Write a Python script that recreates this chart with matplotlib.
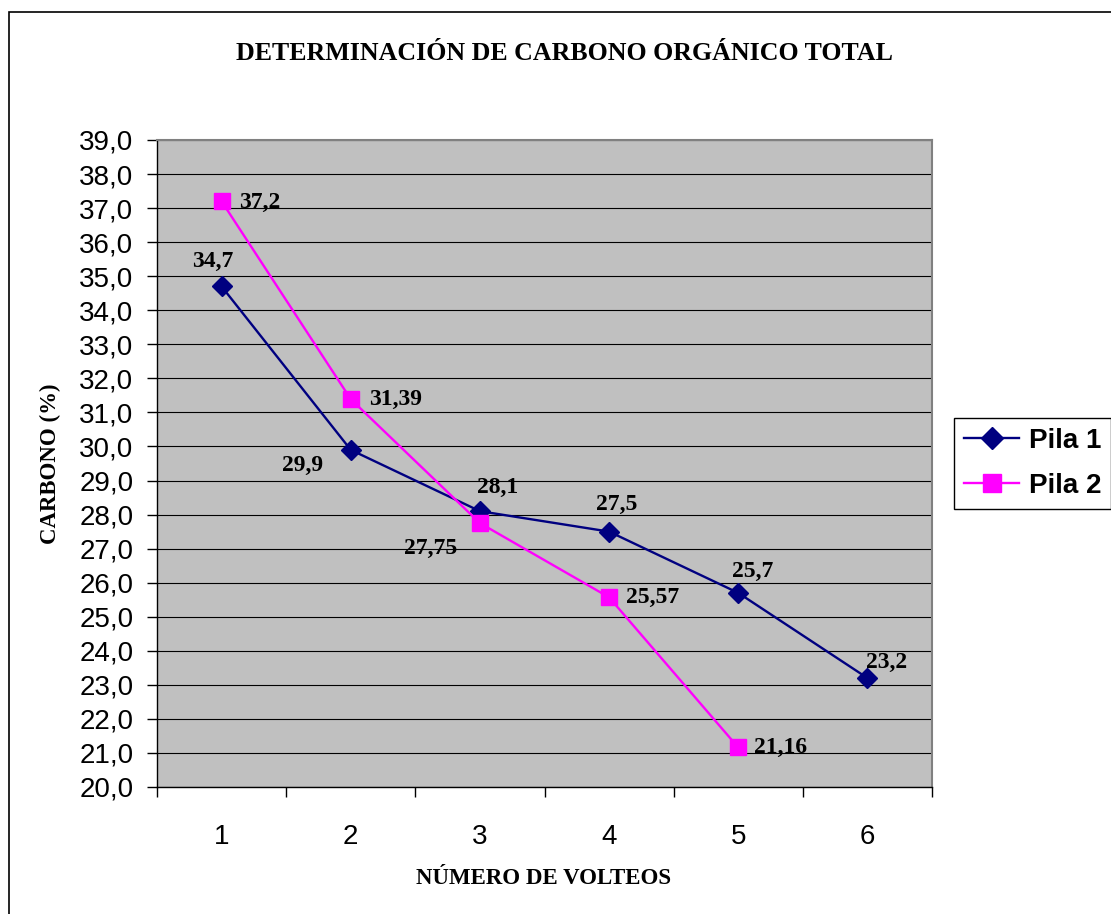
import matplotlib
matplotlib.use("Agg")
import matplotlib.pyplot as plt
from matplotlib.patches import Rectangle

# data
volteos = [1, 2, 3, 4, 5, 6]
pila1 = [34.7, 29.9, 28.1, 27.5, 25.7, 23.2]
pila2 = [37.2, 31.39, 27.75, 25.57, 21.16]
labels1 = ["34,7", "29,9", "28,1", "27,5", "25,7", "23,2"]
labels2 = ["37,2", "31,39", "27,75", "25,57", "21,16"]
yticks = list(range(20, 40))

# label offsets in pixels (moved by hand in the original)
off1 = [(-9, 25, "center"), (-48, -16, "center"), (18, 24, "center"),
        (8, 27, "center"), (14, 21, "center"), (19, 16, "center")]
off2 = [(17, -1, "left"), (18, 0, "left"), (-49, -25, "center"),
        (17, 0, "left"), (16, 0, "left")]

serif = "Liberation Serif"
sans = "Liberation Sans"

fig = plt.figure(figsize=(11.11, 9.14), dpi=100)
ax = fig.add_axes([157 / 1111, 1 - 787 / 914, 775 / 1111, 647 / 914])
ax.set_facecolor("#C0C0C0")

ax.set_ylim(20, 39)
ax.set_xlim(0.5, 6.5)
ax.set_yticks(yticks)
ax.set_yticklabels([f"{v},0" for v in yticks], family=sans, fontsize=20)
ax.yaxis.grid(True, color="black", lw=0.8)
ax.set_axisbelow(True)

ax.set_xticks([i + 0.5 for i in range(0, 7)])
ax.set_xticklabels([])
ax.set_xticks(volteos, minor=True)
ax.set_xticklabels([str(v) for v in volteos], minor=True, family=sans, fontsize=20)
ax.tick_params(axis="x", which="minor", length=0, pad=27)
ax.tick_params(axis="both", which="major", length=7, width=1, color="black", direction="out")
ax.tick_params(axis="y", pad=10)

for s in ax.spines.values():
    s.set_color("#808080")
    s.set_linewidth(1.5)
ax.spines["bottom"].set_color("black")
ax.spines["bottom"].set_linewidth(1)
ax.spines["left"].set_color("black")
ax.spines["left"].set_linewidth(1)

ax.plot(volteos, pila1, color="#000080", lw=1.7, marker="D", ms=10,
        label="Pila 1", zorder=3)
ax.plot(volteos[:len(pila2)], pila2, color="#FF00FF", lw=1.7, marker="s",
        ms=11.5, label="Pila 2", zorder=4)

for x, y, t, (dx, dy, ha) in zip(volteos, pila1, labels1, off1):
    ax.annotate(t, (x, y), xytext=(dx, dy), textcoords="offset pixels",
                ha=ha, va="center", family=serif, fontweight="bold", fontsize=17)
for x, y, t, (dx, dy, ha) in zip(volteos, pila2, labels2, off2):
    ax.annotate(t, (x, y), xytext=(dx, dy), textcoords="offset pixels",
                ha=ha, va="center", family=serif, fontweight="bold", fontsize=17)

fig.text(564 / 1111, 1 - 53 / 914, "DETERMINACIÓN DE CARBONO ORGÁNICO TOTAL",
         ha="center", va="center", family=serif, fontweight="bold", fontsize=18.6)
fig.text(50 / 1111, 1 - 464 / 914, "CARBONO (%)", rotation=90,
         ha="center", va="center", family=serif, fontweight="bold", fontsize=16.5)
fig.text(544 / 1111, 1 - 878 / 914, "NÚMERO DE VOLTEOS",
         ha="center", va="center", family=serif, fontweight="bold", fontsize=16.5)

leg = fig.legend(loc="center left", bbox_to_anchor=(954 / 1111, 1 - 463.5 / 914),
                 prop={"family": sans, "weight": "bold", "size": 20},
                 fancybox=False, framealpha=1, edgecolor="black",
                 handlelength=2.0, handletextpad=0.35, labelspacing=0.68,
                 borderpad=0.35, borderaxespad=0, markerscale=1.15)
leg.get_frame().set_linewidth(1)

# outer chart border
fig.patches.append(Rectangle((9 / 1111, -0.05), 1.1, 1 - 12 / 914 + 0.05,
                             transform=fig.transFigure, fill=False,
                             edgecolor="black", lw=1.2))

fig.savefig("out.png", dpi=100)
